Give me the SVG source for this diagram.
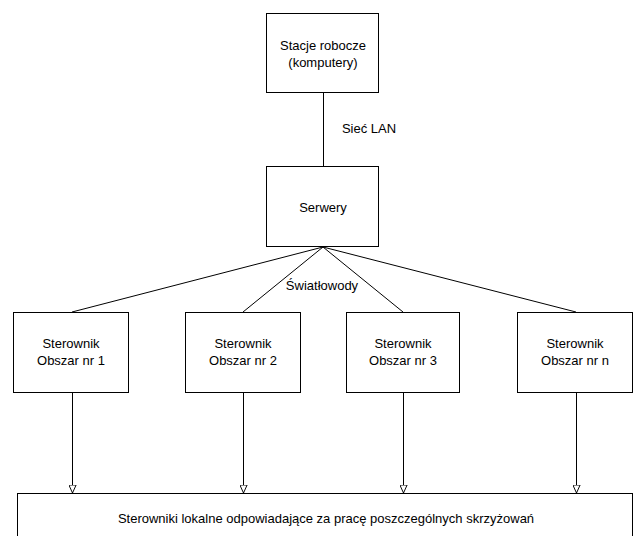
<svg xmlns="http://www.w3.org/2000/svg" width="633" height="536" viewBox="0 0 633 536">
<defs>
<style>
.box{fill:#fff;stroke:#000;stroke-width:1}
.ln{fill:none;stroke:#000;stroke-width:1}
text{font-family:"Liberation Sans",Arial,sans-serif;font-size:13px;fill:#000;text-anchor:middle}
</style>
<marker id="tri" viewBox="0 0 10 10" refX="10" refY="5" markerWidth="8" markerHeight="8" markerUnits="userSpaceOnUse" orient="auto">
<path d="M0,0.5 L10,5 L0,9.5 Z" fill="#fff" stroke="#000" stroke-width="1.2"/>
</marker>
</defs>
<rect width="633" height="536" fill="#fff"/>
<g id="connectors">
<line class="ln" x1="323.5" y1="92" x2="323.5" y2="166"/>
<line class="ln" x1="323" y1="247" x2="72" y2="312"/>
<line class="ln" x1="323" y1="247" x2="243" y2="312"/>
<line class="ln" x1="323" y1="247" x2="403" y2="312"/>
<line class="ln" x1="323" y1="247" x2="576" y2="312"/>
<line class="ln" x1="72.5" y1="392" x2="72.5" y2="493" marker-end="url(#tri)"/>
<line class="ln" x1="243.5" y1="392" x2="243.5" y2="493" marker-end="url(#tri)"/>
<line class="ln" x1="403.5" y1="392" x2="403.5" y2="493" marker-end="url(#tri)"/>
<line class="ln" x1="576.5" y1="392" x2="576.5" y2="493" marker-end="url(#tri)"/>
<text x="369" y="133">Sieć LAN</text>
<text x="322" y="290">Światłowody</text>
</g>
<g id="stacje">
<rect class="box" x="266.5" y="13.5" width="112" height="79"/>
<text x="323" y="50">Stacje robocze</text>
<text x="323" y="67">(komputery)</text>
</g>
<g id="serwery">
<rect class="box" x="266.5" y="166.5" width="112" height="80"/>
<text x="323" y="212">Serwery</text>
</g>
<g id="sterownik1">
<rect class="box" x="13.5" y="312.5" width="115" height="80"/>
<text x="71" y="348">Sterownik</text>
<text x="71" y="365">Obszar nr 1</text>
</g>
<g id="sterownik2">
<rect class="box" x="185.5" y="312.5" width="115" height="80"/>
<text x="243" y="348">Sterownik</text>
<text x="243" y="365">Obszar nr 2</text>
</g>
<g id="sterownik3">
<rect class="box" x="346.5" y="312.5" width="113" height="80"/>
<text x="403" y="348">Sterownik</text>
<text x="403" y="365">Obszar nr 3</text>
</g>
<g id="sterownikn">
<rect class="box" x="517.5" y="312.5" width="115" height="80"/>
<text x="575" y="348">Sterownik</text>
<text x="575" y="365">Obszar nr n</text>
</g>
<g id="lokalne">
<rect class="box" x="17.5" y="493.5" width="615" height="60"/>
<text x="326" y="523">Sterowniki lokalne odpowiadające za pracę poszczególnych skrzyżowań</text>
</g>
</svg>
